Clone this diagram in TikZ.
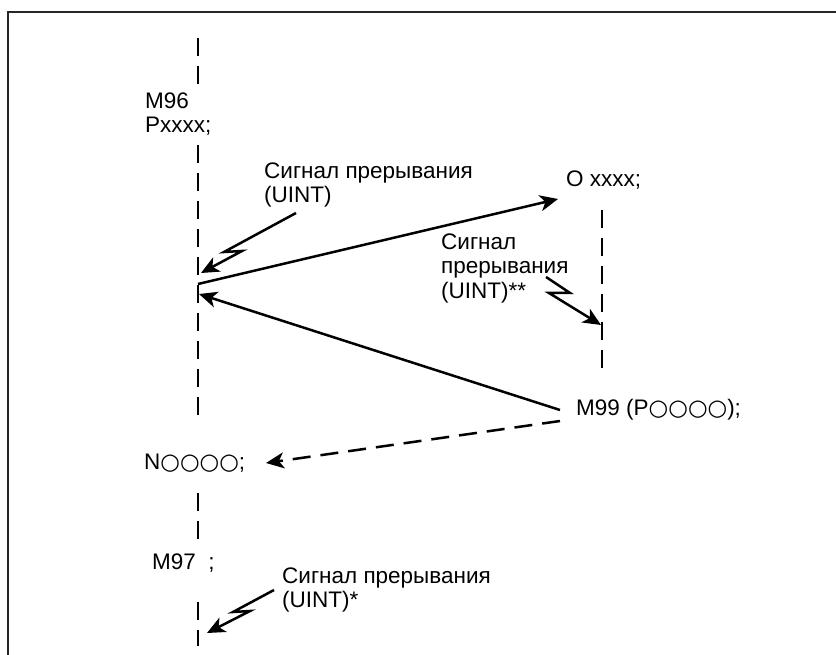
\documentclass[tikz,border=0pt]{standalone}
\usepackage{fontspec}
\setmainfont{Liberation Sans}
\newfontfamily\symf{DejaVu Sans}
\usetikzlibrary{arrows.meta}

\newcommand{\cir}{{\symf ○}}

\begin{document}
\begin{tikzpicture}[x=1pt,y=-1pt,
  lb/.style={font=\fontsize{22.5}{24.5}\selectfont, inner sep=0pt, anchor=west, align=left},
  a/.style={-{Stealth[length=18pt,width=16pt,inset=5pt]}, line width=2.5pt},
  dl/.style={line width=2.8pt, dash pattern=on 18pt off 10pt},
  dla/.style={a, dash pattern=on 18pt off 10pt},
  frm/.style={line width=2pt, draw=black!85}]
  \useasboundingbox (0,0) rectangle (836,655);
  % frame, open at right and bottom
  \draw[frm] (836,12) -- (8,12) -- (8,655);

  % program text
  \node[lb] (m96) at (145,114) {M96\\Pxxxx;};
  \node[lb] (ox)  at (566,180) {O xxxx;};
  \node[lb] (m99) at (576,410) {M99 (P\cir\cir\cir\cir);};
  \node[lb] (nn)  at (144,463) {N\cir\cir\cir\cir;};
  \node[lb] (m97) at (152,563) {M97\ \ ;};

  % signal labels
  \node[lb] (sga) at (264,185) {Сигнал прерывания\\(UINT)};
  \node[lb] (sgb) at (441,268) {Сигнал\\прерывания\\(UINT)**};
  \node[lb] (sgc) at (282,590) {Сигнал прерывания\\(UINT)*};

  % main program line
  \coordinate (p0) at (198,38);  \coordinate (p1) at (198,84);
  \coordinate (p2) at (198,145); \coordinate (p3) at (198,420);
  \coordinate (p4) at (198,493); \coordinate (p5) at (198,540);
  \coordinate (p6) at (198,602); \coordinate (p7) at (198,646);
  \draw[dl] (p0) -- (p1);
  \draw[dl] (p2) -- (p3);
  \draw[dl] (p4) -- (p5);
  \draw[dl] (p6) -- (p7);

  % sub program line
  \coordinate (q0) at (602,210); \coordinate (q1) at (602,370);
  \draw[dl] (q0) -- (q1);

  % jumps
  \coordinate (go)  at (198,284);
  \coordinate (bk)  at (199,294);
  \coordinate (oin) at (558,199);
  \coordinate (rt)  at (560,410);
  \coordinate (rd)  at (560,421);
  \coordinate (nin) at (266,463);
  \draw[a] (go) -- (oin);
  \draw[a] (rt) -- (bk);
  \draw[dla] (rd) -- (nin);

  % interrupt signals
  \coordinate (ta) at (201,273);
  \coordinate (tb) at (601,325);
  \coordinate (tc) at (207,633);
  \draw[a] (296,213) -- (224,252) -- (242,251) -- (ta);
  \draw[a] (546,277) -- (570,293) -- (549,293) -- (tb);
  \draw[a] (274,590) -- (233,612) -- (250,611) -- (tc);
\end{tikzpicture}
\end{document}
